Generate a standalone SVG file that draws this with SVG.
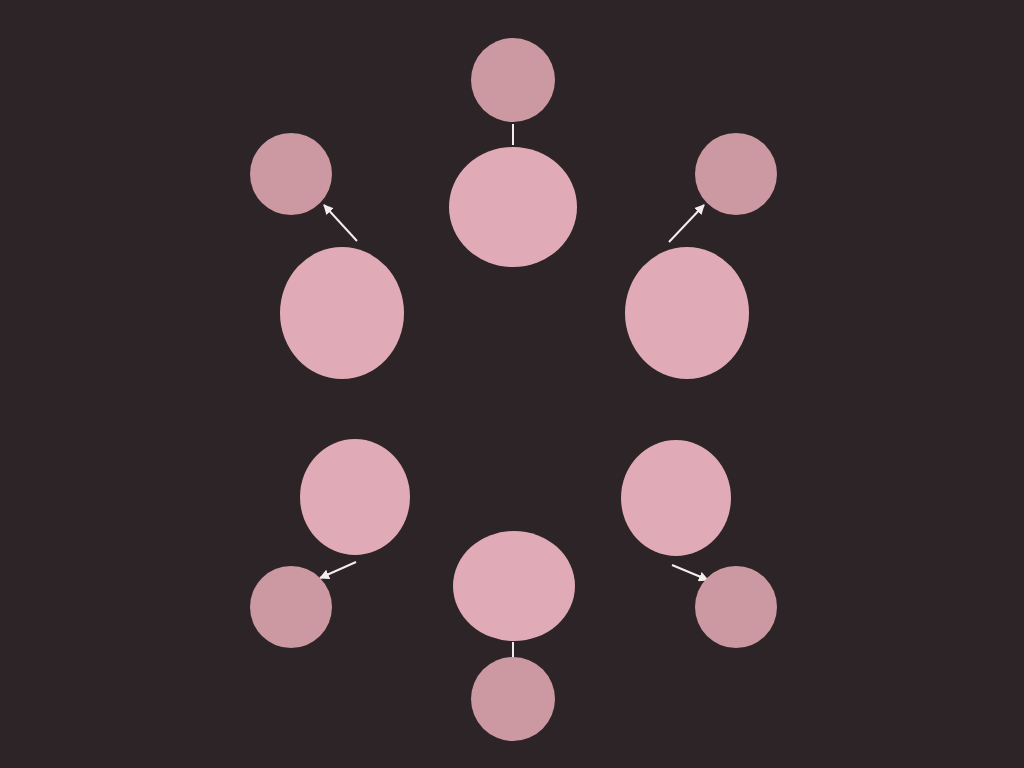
<svg xmlns="http://www.w3.org/2000/svg" width="1024" height="768" viewBox="0 0 1024 768">
<defs>
<marker id="ah" viewBox="0 0 10 10" refX="9" refY="5" markerWidth="10" markerHeight="10" markerUnits="userSpaceOnUse" orient="auto">
<path d="M0,0 L10,5 L0,10 z" fill="#f2eeee"/>
</marker>
<style>
.big{fill:#e0abb6}
.small{fill:#cc99a2}
.c{stroke:#f2eeee;stroke-width:2;fill:none}
</style>
</defs>
<rect width="1024" height="768" fill="#2d2427"/>
<g id="connectors">
<line class="c" x1="513" y1="124" x2="513" y2="145"/>
<line class="c" x1="513" y1="642" x2="513" y2="657"/>
<line class="c" x1="357" y1="241" x2="324" y2="205" marker-end="url(#ah)"/>
<line class="c" x1="669" y1="242" x2="704" y2="205" marker-end="url(#ah)"/>
<line class="c" x1="356" y1="562" x2="320" y2="578" marker-end="url(#ah)"/>
<line class="c" x1="672" y1="565" x2="708" y2="580" marker-end="url(#ah)"/>
</g>
<g id="n-top-small"><circle class="small" cx="513" cy="80" r="42"/></g>
<g id="n-top-big"><ellipse class="big" cx="513" cy="207" rx="64" ry="60"/></g>
<g id="n-ul-small"><circle class="small" cx="291" cy="174" r="41"/></g>
<g id="n-ul-big"><ellipse class="big" cx="342" cy="313" rx="62" ry="66"/></g>
<g id="n-ur-small"><circle class="small" cx="736" cy="174" r="41"/></g>
<g id="n-ur-big"><ellipse class="big" cx="687" cy="313" rx="62" ry="66"/></g>
<g id="n-ll-big"><ellipse class="big" cx="355" cy="497" rx="55" ry="58"/></g>
<g id="n-ll-small"><circle class="small" cx="291" cy="607" r="41"/></g>
<g id="n-lr-big"><ellipse class="big" cx="676" cy="498" rx="55" ry="58"/></g>
<g id="n-lr-small"><circle class="small" cx="736" cy="607" r="41"/></g>
<g id="n-bot-big"><ellipse class="big" cx="514" cy="586" rx="61" ry="55"/></g>
<g id="n-bot-small"><circle class="small" cx="513" cy="699" r="42"/></g>
</svg>
